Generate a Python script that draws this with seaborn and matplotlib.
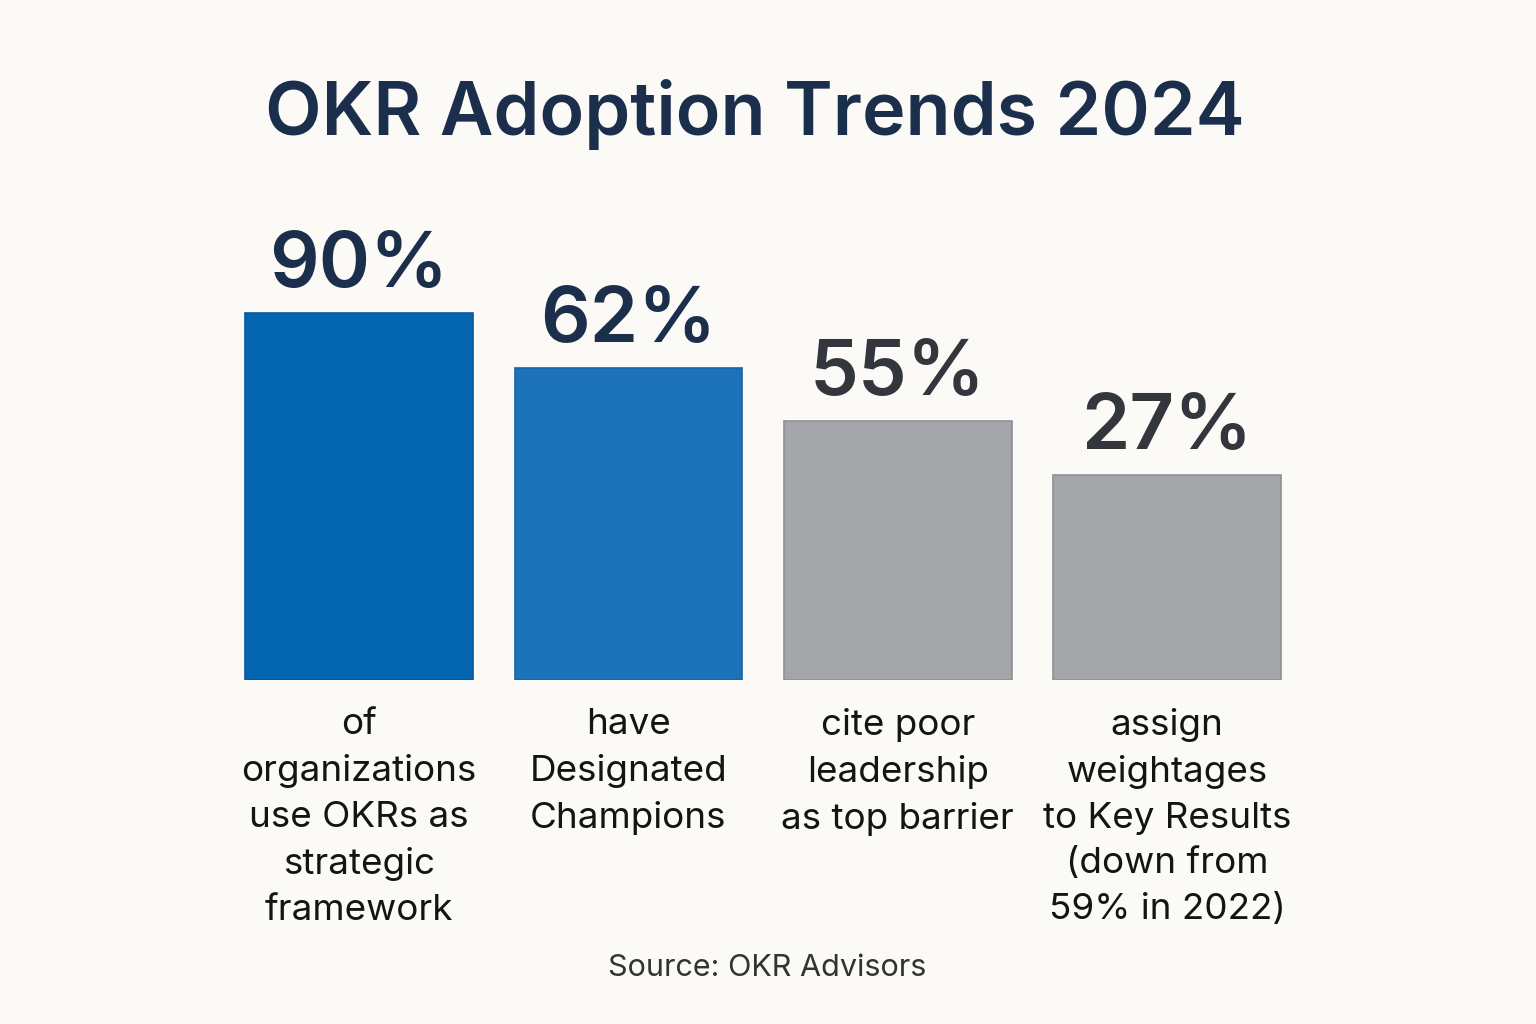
import matplotlib.pyplot as plt
import seaborn as sns
import pandas as pd

# chart data
categories = [
    "of\norganizations\nuse OKRs as\nstrategic\nframework",
    "have\nDesignated\nChampions",
    "cite poor\nleadership\nas top barrier",
    "assign\nweightages\nto Key Results\n(down from\n59% in 2022)",
]
percent_labels = [90, 62, 55, 27]
# bar heights as drawn in the picture (not proportional to the labels)
bar_heights = [90, 76.5, 63.5, 50.3]
bar_colors = ["#0465B0", "#1C73B9", "#A4A5A9", "#A4A5A9"]
edge_colors = ["#0A55A0", "#1A62A8", "#8F9095", "#8F9095"]
label_colors = ["#1B2E4B", "#1B2E4B", "#33363D", "#33363D"]

df = pd.DataFrame({"category": categories, "height": bar_heights})

sns.set_theme(style="white")
plt.rcParams["font.family"] = ["Inter", "DejaVu Sans"]

bg = "#FBFAF6"
fig = plt.figure(figsize=(15.36, 10.24), dpi=100, facecolor=bg)
ax = fig.add_axes([0.146, 0.336, 0.7015, 0.398])
ax.set_facecolor(bg)

sns.barplot(data=df, x="category", y="height", hue="category",
            palette=bar_colors, legend=False, width=0.845,
            saturation=1, ax=ax)

for bar, ec in zip(ax.patches, edge_colors):
    bar.set_edgecolor(ec)
    bar.set_linewidth(1.2)

# percentage labels above the bars
for i, (h, v) in enumerate(zip(bar_heights, percent_labels)):
    ax.text(i, h + 2.4, f"{v}%", ha="center", va="bottom", fontsize=56,
            fontweight="semibold", color=label_colors[i])

ax.set_ylim(0, 100)
ax.set_xlim(-0.5, 3.5)
ax.set_yticks([])
ax.set_xlabel("")
ax.set_ylabel("")
ax.tick_params(axis="x", length=0, pad=20)
ax.set_xticks(range(len(categories)))
ax.set_xticklabels(categories, fontsize=26.5, color="#141414",
                   linespacing=1.49, va="top")
sns.despine(ax=ax, left=True, bottom=True)

fig.text(0.4915, 0.888, "OKR Adoption Trends 2024", ha="center", va="center",
         fontsize=53, fontweight="semibold", color="#1B2E4B")
fig.text(0.4995, 0.055, "Source: OKR Advisors", ha="center", va="center",
         fontsize=22, color="#333333")

fig.savefig("out.png", dpi=100, facecolor=bg)
